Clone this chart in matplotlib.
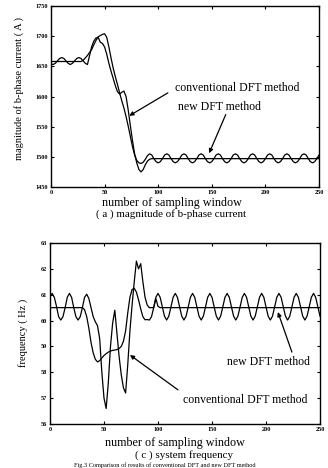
import numpy as np
import matplotlib
matplotlib.use("Agg")
import matplotlib.pyplot as plt

plt.rcParams['font.family'] = ['Liberation Serif', 'DejaVu Serif']

window = np.arange(0, 252, 2)

# (a) magnitude of b-phase current (A)
conv_current = [
    1654, 1653, 1655, 1659, 1663, 1664.5, 1663, 1659, 1655, 1653,
    1655, 1659, 1663, 1664.5, 1663, 1659, 1655, 1653, 1668, 1683,
    1692, 1697, 1698, 1690, 1688, 1682, 1670, 1655, 1642, 1630,
    1618, 1608, 1604, 1607, 1609, 1600, 1578, 1552, 1527, 1505,
    1490, 1479, 1475, 1479, 1487, 1493, 1496,
    1497, 1497, 1497, 1497, 1497, 1497, 1497, 1497, 1497, 1497,
    1497, 1497, 1497, 1497, 1497, 1497, 1497, 1497, 1497, 1497,
    1497, 1497, 1497, 1497, 1497, 1497, 1497, 1497, 1497, 1497,
    1497, 1497, 1497, 1497, 1497, 1497, 1497, 1497, 1497, 1497,
    1497, 1497, 1497, 1497, 1497, 1497, 1497, 1497, 1497, 1497,
    1497, 1497, 1497, 1497, 1497, 1497, 1497, 1497, 1497, 1497,
    1497, 1497, 1497, 1497, 1497, 1497, 1497, 1497, 1497, 1497,
    1497, 1497, 1497, 1497, 1497, 1497, 1497, 1497, 1497,
]
new_current = [
    1658, 1658, 1658, 1658, 1658, 1658, 1658, 1658, 1658, 1658,
    1658, 1658, 1658, 1658, 1658, 1660, 1664, 1668, 1673, 1678,
    1686, 1693, 1699, 1701, 1703, 1704, 1698, 1682, 1664, 1647,
    1633, 1620, 1606, 1593, 1581, 1567, 1551, 1534, 1517, 1503,
    1494, 1490, 1489, 1491, 1496, 1502,
    1505, 1503, 1497, 1492, 1490, 1492, 1497, 1503,
    1505, 1503, 1497, 1492, 1490, 1492, 1497, 1503,
    1505, 1503, 1497, 1492, 1490, 1492, 1497, 1503,
    1505, 1503, 1497, 1492, 1490, 1492, 1497, 1503,
    1505, 1503, 1497, 1492, 1490, 1492, 1497, 1503,
    1505, 1503, 1497, 1492, 1490, 1492, 1497, 1503,
    1505, 1503, 1497, 1492, 1490, 1492, 1497, 1503,
    1505, 1503, 1497, 1492, 1490, 1492, 1497, 1503,
    1505, 1503, 1497, 1492, 1490, 1492, 1497, 1503,
    1505, 1503, 1497, 1492, 1490, 1492, 1497, 1503,
]

# (c) system frequency (Hz)
conv_freq = [
    60.95, 61.05, 60.9, 60.55, 60.15, 60.02, 60.15, 60.5, 60.9, 61.05,
    60.9, 60.5, 60.15, 60.02, 60.15, 60.5, 60.9, 61.02, 60.85, 60.5,
    60.15, 59.95, 59.8, 59.3, 58.0, 57.0, 56.6, 57.6, 59.0, 59.9,
    60.4, 59.5, 58.6, 57.9, 57.4, 57.2, 58.3, 59.6, 60.6, 61.5,
    62.3, 62.0, 62.2, 61.5, 60.9, 60.6, 60.5, 60.5, 60.5, 60.85,
    60.55,
    60.5, 60.5, 60.5, 60.5, 60.5, 60.5, 60.5, 60.5, 60.5, 60.5,
    60.5, 60.5, 60.5, 60.5, 60.5, 60.5, 60.5, 60.5, 60.5, 60.5,
    60.5, 60.5, 60.5, 60.5, 60.5, 60.5, 60.5, 60.5, 60.5, 60.5,
    60.5, 60.5, 60.5, 60.5, 60.5, 60.5, 60.5, 60.5, 60.5, 60.5,
    60.5, 60.5, 60.5, 60.5, 60.5, 60.5, 60.5, 60.5, 60.5, 60.5,
    60.5, 60.5, 60.5, 60.5, 60.5, 60.5, 60.5, 60.5, 60.5, 60.5,
    60.5, 60.5, 60.5, 60.5, 60.5, 60.5, 60.5, 60.5, 60.5, 60.5,
    60.5, 60.5, 60.5, 60.5, 60.5,
]
new_freq = [
    60.5, 60.5, 60.5, 60.5, 60.5, 60.5, 60.5, 60.5, 60.5, 60.5,
    60.5, 60.5, 60.5, 60.5, 60.5, 60.5, 60.42, 60.15, 59.7, 59.15,
    58.75, 58.5, 58.4, 58.45, 58.55, 58.65, 58.72, 58.78, 58.82, 58.85,
    58.86, 58.88, 58.92, 59.0, 59.2, 59.6, 60.3, 60.9, 61.2, 61.25,
    61.1, 60.8, 60.45, 60.15, 60.03, 60.04, 60.02, 60.15, 60.5, 60.9,
    61.05, 60.9, 60.53, 60.17, 60.02, 60.17, 60.53, 60.9,
    61.05, 60.9, 60.53, 60.17, 60.02, 60.17, 60.53, 60.9,
    61.05, 60.9, 60.53, 60.17, 60.02, 60.17, 60.53, 60.9,
    61.05, 60.9, 60.53, 60.17, 60.02, 60.17, 60.53, 60.9,
    61.05, 60.9, 60.53, 60.17, 60.02, 60.17, 60.53, 60.9,
    61.05, 60.9, 60.53, 60.17, 60.02, 60.17, 60.53, 60.9,
    61.05, 60.9, 60.53, 60.17, 60.02, 60.17, 60.53, 60.9,
    61.05, 60.9, 60.53, 60.17, 60.02, 60.17, 60.53, 60.9,
    61.05, 60.9, 60.53, 60.17, 60.02, 60.17, 60.53, 60.9,
    61.05, 60.9, 60.53, 60.17,
]

x_ticks = [0, 50, 100, 150, 200, 250]
cur_ticks = [1450, 1500, 1550, 1600, 1650, 1700, 1750]
freq_ticks = [56, 57, 58, 59, 60, 61, 62, 63]
freq_tick_labels = ['56', '57', '58', '59', '60', '61', '62', '63']

fig = plt.figure(figsize=(3.28, 4.68), dpi=100)
ax1 = fig.add_axes([51/328, 1-187/468, 268/328, 181/468])
ax2 = fig.add_axes([50/328, 1-424/468, 270/328, 181/468])

tickfont = dict(fontsize=4.5, fontweight='bold')
for ax in (ax1, ax2):
    ax.set_xlim(0, 250)
    ax.set_xticks(x_ticks)
    ax.set_xticklabels([str(t) for t in x_ticks], **tickfont)
    ax.tick_params(direction='in', length=2, width=0.8, top=True, right=True, pad=2)
    for s in ax.spines.values():
        s.set_linewidth(1.0)

ax1.plot(window, conv_current, color='black', lw=0.9)
ax1.plot(window, new_current, color='black', lw=0.9)
ax1.set_ylim(1450, 1750)
ax1.set_yticks(cur_ticks)
ax1.set_yticklabels([str(t) for t in cur_ticks], **tickfont)

ax2.plot(window, conv_freq, color='black', lw=0.9)
ax2.plot(window, new_freq, color='black', lw=0.9)
ax2.set_ylim(56, 63)
ax2.set_yticks(freq_ticks)
ax2.set_yticklabels(freq_tick_labels, **tickfont)

ap = dict(arrowstyle='-|>', color='black', lw=0.9, mutation_scale=6, shrinkA=0, shrinkB=0)
afs = 8.5
ax1.text(174, 1614, 'conventional DFT method', ha='center', va='center', fontsize=afs)
ax1.annotate('', xy=(73, 1568), xytext=(109, 1606), arrowprops=ap)
ax1.text(157, 1582, 'new DFT method', ha='center', va='center', fontsize=afs)
ax1.annotate('', xy=(147.5, 1506), xytext=(163, 1570), arrowprops=ap)

ax2.text(180.5, 56.93, 'conventional DFT method', ha='center', va='center', fontsize=afs)
ax2.annotate('', xy=(74, 58.67), xytext=(118.5, 57.32), arrowprops=ap)
ax2.text(202, 58.4, 'new DFT method', ha='center', va='center', fontsize=afs)
ax2.annotate('', xy=(211, 60.33), xytext=(224, 58.78), arrowprops=ap)

fig.text(19/328, 1-88/468, 'magnitude of b-phase current ( A )', rotation=90,
         ha='center', va='center', fontsize=7.5)
fig.text(23/328, 1-333/468, 'frequency ( Hz )', rotation=90,
         ha='center', va='center', fontsize=7.5)

fig.text(172/328, 1-203/468, 'number of sampling window', ha='center', va='center', fontsize=8.7)
fig.text(171/328, 1-214.5/468, '( a ) magnitude of b-phase current', ha='center', va='center', fontsize=7.9)
fig.text(175/328, 1-443/468, 'number of sampling window', ha='center', va='center', fontsize=8.7)
fig.text(184/328, 1-455/468, '( c ) system frequency', ha='center', va='center', fontsize=7.9)
fig.text(165/328, 0.5/468, 'Fig.3 Comparison of results of conventional DFT and new DFT method',
         ha='center', va='bottom', fontsize=4.5)

fig.savefig('out.png', dpi=100)
